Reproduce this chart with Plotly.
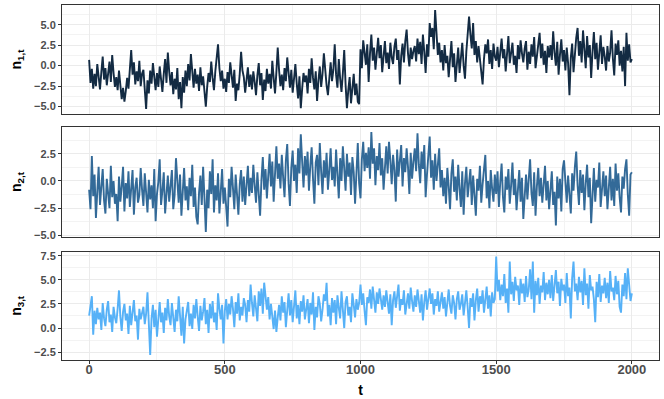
import plotly.graph_objects as go
from plotly.subplots import make_subplots

# time index, one value every 5 steps
t = list(range(0, 2001, 5))

# n_{1,t}: level shift at t = 1000
n1 = (
    [0.7, -2.1, -0.4, -2.8, -1.0, -2.5, 0.2, -1.6, -2.9, -0.8, 1.1, -1.7, -0.3, -2.4, -1.2, 0.5, -2.0, 1.3, -0.9, -2.6]
    + [-1.4, -3.0, -0.6, -2.2, -4.1, -2.7, -4.4, -3.1, -1.5, -2.8, -0.2, 1.9, -1.1, 0.4, -2.3, -0.7, -1.9, 0.6, -2.5, -1.0]
    + [-0.5, -2.9, -5.3, -1.8, -3.4, -0.6, -2.2, 0.3, -1.3, -3.0, -0.9, -2.6, -0.1, -1.7, -3.2, -1.0, 0.8, -2.1, 1.6, -0.7]
    + [-2.4, -0.8, -3.5, -1.6, -2.9, -0.3, -4.1, -2.0, -5.2, -1.4, -3.3, -0.6, -2.5, 0.2, -1.8, 1.4, -1.0, -2.7, -0.4, -2.2]
    + [-1.1, -3.1, -0.2, -2.4, -1.3, -3.8, -5.0, -2.6, -0.9, -2.0, 0.5, -1.5, -3.0, -0.7, 1.2, 2.6, -0.3, -1.9, -0.6, -2.8]
    + [-1.6, -3.2, -0.8, -2.1, 0.4, -1.2, -2.7, -0.5, -4.3, -2.2, -3.0, -1.0, 1.7, -0.6, -1.4, -3.3, -1.8, -0.2, -2.6, -1.1]
    + [-2.9, -0.7, -2.0, -3.6, -1.2, 0.3, -2.4, -0.9, -4.2, -1.7, -3.1, -0.4, -2.2, -1.0, -2.8, 0.6, -1.5, -3.4, -0.8, 2.2]
    + [-0.6, -2.5, -1.1, -3.0, -0.3, -1.9, 1.0, -1.4, -2.7, -0.5, -3.3, -1.6, 0.2, -2.2, -4.0, -1.3, -5.2, -2.8, -0.9, -2.0]
    + [-1.2, -3.4, -0.4, -2.1, 0.9, -1.5, -2.9, -0.7, -4.3, -1.8, -0.1, -2.6, -1.0, 1.5, -0.8, -2.4, -3.6, -1.3, 0.4, -1.9]
    + [-0.5, 2.6, -1.1, -2.7, 0.8, -1.6, -3.2, -0.9, 1.9, -2.3, -5.2, -3.0, -1.4, -4.6, -2.5, -1.0, -3.6, -2.2, -4.4, -4.7]
    + [2.0, -0.3, 3.1, 1.2, 0.1, 2.6, -2.0, 1.5, 3.8, 0.6, 2.2, -0.5, 1.8, 3.4, 0.9, 2.5, -0.8, 1.4, 3.0, 0.3]
    + [1.6, -0.4, 2.8, 1.0, 0.2, 2.3, 3.3, 0.7, 1.9, -2.3, 1.2, 2.7, 0.4, 3.0, 4.4, 1.5, -0.1, 2.2, 0.8, 1.8]
    + [2.4, 0.5, 3.3, 1.4, 2.9, 0.2, 3.8, 1.7, -0.9, 2.6, 1.1, 5.2, 3.5, 4.6, 2.0, 6.8, 3.9, 1.3, 2.8, 0.4]
    + [1.9, -0.6, 2.5, 0.3, 1.2, -1.4, 0.8, 3.0, -0.2, 1.5, -2.0, 0.6, 2.2, -0.9, 1.1, 2.8, 0.0, -1.6, 1.7, 3.5]
    + [6.0, 3.8, 2.1, 5.2, 1.3, 3.0, 0.4, 2.4, 1.0, -0.7, -2.3, 0.8, 2.6, 1.5, 3.2, 0.2, 1.9, -0.4, 2.7, 1.1]
    + [0.6, 2.3, -0.2, 1.6, 3.3, 0.9, 2.0, -0.7, 1.4, 3.6, 0.3, 1.9, 2.8, 0.1, 1.2, -0.9, 2.5, 0.8, 3.1, 1.5]
    + [0.4, 2.1, 3.0, -0.5, 1.7, 0.2, 2.6, 1.1, 3.5, -0.3, 1.4, 2.2, 4.0, 0.9, 2.7, 0.1, 1.8, -0.9, 2.4, 1.0]
    + [2.5, 0.7, 4.2, 1.6, 0.0, 2.9, -1.1, 1.3, 3.2, 0.5, 1.9, -0.6, 2.2, 0.3, -3.6, 1.0, 2.7, -0.8, 1.5, 3.4]
    + [4.6, 1.2, 3.0, 0.4, 4.3, 2.1, -0.3, 3.6, 1.0, 2.5, -1.5, 1.7, 4.1, 0.8, 2.8, -0.5, 1.9, 3.7, 0.2, 2.3]
    + [1.1, -0.6, 2.4, 0.5, 1.6, 4.3, 0.9, -1.2, 2.7, 1.3, 3.1, 0.0, 1.8, -0.7, 2.3, -2.5, 4.0, 0.6, 2.6, 0.4]
    + [0.8]
)

# n_{2,t}: slow bump between ~600 and ~1300
n2 = (
    [-0.8, -2.6, 2.3, -1.4, 0.6, -3.4, -1.0, 1.3, -2.2, -0.3, 1.1, -1.8, -3.0, 0.2, -0.9, -2.5, 1.4, -1.5, 0.0, -2.1]
    + [-1.2, -3.7, 0.4, -1.9, -0.5, 1.3, -2.8, -0.2, -1.6, 0.9, -2.4, -1.0, 1.0, -3.1, -0.6, 0.3, -2.0, -1.3, 1.2, -0.8]
    + [-2.3, 0.7, -1.1, -2.9, 0.1, -1.7, -0.4, -2.5, 1.1, -3.7, -1.2, -0.1, 2.0, -2.2, -0.9, 0.8, -3.0, -1.5, 0.5, -1.9]
    + [-0.7, 1.0, -2.6, -1.3, 2.1, -0.2, -2.0, 0.6, -3.2, -1.0, 1.2, -1.8, -0.5, -2.7, 0.3, -1.4, 1.5, -2.4, -0.6, -3.3]
    + [-4.0, -1.1, 0.5, -2.2, 1.3, -1.6, -4.7, -0.8, -2.5, 0.9, -1.2, 2.0, -2.9, -0.4, -1.8, 0.7, -3.0, -1.0, 1.1, -2.1]
    + [-0.6, -2.4, -4.2, 0.2, -1.5, 1.3, -0.9, -2.6, 0.6, -1.2, -3.1, -0.3, 1.0, -1.9, 0.4, -2.2, -0.7, 1.4, -1.4, 0.3]
    + [-1.1, 1.5, -0.4, -2.0, 0.8, -1.3, -3.2, 0.1, 2.2, -0.8, 1.1, -1.6, 0.6, 2.5, -0.5, 1.8, -1.9, 0.9, 3.2, 0.2]
    + [1.6, -0.7, 2.4, 0.3, -1.5, 1.9, 3.4, -0.2, -2.3, 1.2, 2.8, 0.0, 1.5, -1.1, 3.0, 0.7, 4.3, 1.8, -0.6, 2.3]
    + [0.5, 2.7, -0.9, 1.4, 3.1, 0.2, -2.1, 1.7, 2.4, -0.4, 3.5, 0.9, -1.2, 1.9, 0.3, 2.6, -0.8, 1.0, 3.0, 0.1]
    + [1.3, -0.5, 2.9, 0.6, -1.6, 2.1, 0.0, 3.2, 1.1, -0.9, 2.5, 0.4, 1.7, -1.3, 2.2, 0.8, -2.1, 1.4, 3.5, -0.2]
    + [-1.6, 2.0, 3.6, 0.9, 2.6, 1.2, 3.1, 0.2, 4.5, 1.6, 3.0, -0.4, 2.3, 1.0, 3.5, 0.5, 2.1, -0.8, 1.7, 3.2]
    + [0.7, 3.6, 1.9, -0.3, 2.4, 1.0, -1.9, 2.9, 0.4, 1.6, 3.3, -0.5, 2.1, 0.8, 3.0, 1.3, -1.2, 2.6, 0.2, 1.8]
    + [3.0, 0.9, 4.4, 1.5, -0.2, 2.7, 1.1, 3.3, -1.5, 0.6, 2.2, 4.1, 0.3, 1.9, -0.8, 2.5, 0.0, 1.4, 3.0, -0.6]
    + [1.0, -1.4, 0.3, -2.1, 1.2, -0.5, -2.6, 0.7, 2.0, -1.0, 0.4, -1.8, 1.5, -0.7, -2.4, 0.9, -3.1, -0.2, 1.3, -1.5]
    + [-0.4, 1.1, -2.2, 0.5, -1.3, -3.2, 0.2, -0.9, 1.4, -2.0, -0.3, 0.8, 2.4, -1.6, 0.0, -2.5, 1.0, -0.7, -1.9, 0.6]
    + [-1.2, 0.9, -2.4, -0.1, 1.6, -1.5, -2.9, 0.4, -0.8, 1.1, -2.1, -0.4, 1.7, -1.3, 0.2, -2.7, -0.6, 1.0, -1.9, 0.3]
    + [-3.5, -0.9, 0.6, -1.7, 0.1, 2.0, -1.1, -2.3, 0.8, -3.2, -0.5, 1.2, -1.4, 0.3, -2.0, -0.2, 1.4, -1.8, 0.0, -2.6]
    + [-0.7, 0.9, -2.2, -1.0, -4.1, 0.4, -1.6, 0.2, -2.8, 1.1, 1.9, -0.6, -2.0, 0.5, -1.3, -3.0, 0.7, -0.9, 1.3, 2.7]
    + [-0.4, -2.2, 1.0, -1.1, 0.6, -2.7, -0.2, 1.5, -1.5, 0.3, -3.9, -0.8, 1.2, -1.9, 0.1, -0.6, 1.7, -2.4, -0.3, 0.9]
    + [-1.4, 0.5, -2.6, -0.1, 1.3, -1.8, 0.2, -2.3, 1.6, -0.9, 0.7, -1.5, -2.9, 0.4, -0.7, 1.1, 2.0, -1.2, -3.2, 0.6]
    + [0.8]
)

# n_{3,t}: upward drift
n3 = (
    [1.3, 2.4, 3.3, -0.7, 1.8, 0.4, 2.1, 0.9, 1.6, -0.2, 2.6, 1.0, 0.2, 1.9, 2.8, 0.6, 1.4, -0.4, 2.2, 1.1]
    + [0.5, 2.0, 3.9, 1.2, -0.3, 1.7, 2.5, 0.8, 1.5, -0.6, 2.3, 0.3, 1.8, 2.9, 0.7, 1.3, -1.2, 2.0, 0.9, 1.6]
    + [2.2, 0.4, 1.5, 3.7, -0.2, -2.8, 1.0, 2.4, 0.1, 1.9, -0.9, 1.3, 2.7, 0.6, 1.6, -0.5, 2.1, 0.8, 3.0, 1.2]
    + [0.3, 2.6, 1.4, -0.4, 1.9, 0.7, 3.3, 1.1, -0.8, 2.2, -1.6, 0.9, 1.8, 2.7, 0.2, 1.5, -0.1, 2.4, 1.0, 3.0]
    + [1.2, -0.3, 2.3, 0.8, 1.7, 3.1, 0.4, 1.9, -0.5, 2.5, 1.0, 2.8, 0.6, 1.6, -0.2, 3.6, 2.0, 0.9, 2.4, -1.6]
    + [1.8, 3.0, 0.9, 2.5, 1.4, 3.3, 2.0, 0.1, 2.7, 1.5, 3.6, 0.8, 2.2, 1.3, 3.1, 2.4, 0.6, 2.9, 1.7, 4.5]
    + [2.6, 1.2, 3.4, 2.0, 0.7, 3.8, 2.3, 4.1, 1.5, 4.7, 2.8, 1.9, 3.2, 0.9, 2.5, 1.4, -0.1, 1.8, -0.4, 1.1]
    + [2.4, 0.8, 3.3, 1.6, 2.7, 0.1, 2.1, 3.6, 1.3, 2.9, 0.6, 1.9, 3.9, 1.0, 2.4, 0.4, 2.8, 1.7, 3.4, 0.9]
    + [2.0, 3.0, 0.5, 2.6, 1.4, 3.7, -0.2, 2.2, 1.1, 3.3, 2.5, 0.7, 1.9, 3.5, 2.8, 4.7, 1.2, 2.4, 0.3, 3.1]
    + [1.6, 2.9, 0.4, 3.4, 2.1, 1.0, 3.8, 1.8, 0.0, 2.7, 3.3, 1.3, 2.2, 0.6, 3.6, 2.4, 1.1, 3.0, 1.9, 2.6]
    + [4.5, 2.4, 3.6, 1.8, 0.3, 3.2, 2.6, 4.0, 2.0, 4.3, 3.0, 1.6, 3.7, 2.5, 4.1, 2.9, 1.9, 3.4, 2.2, 3.9]
    + [2.7, 1.5, 3.5, 0.3, 2.9, 3.8, 2.1, 3.3, 4.5, 1.8, 3.0, 2.4, 3.9, 1.4, 2.6, 3.6, 2.0, 4.2, 2.8, 1.7]
    + [3.4, 2.2, 4.0, 2.9, 1.6, 3.5, 0.8, 2.7, 3.9, 1.9, 3.1, 4.1, 2.5, 3.6, 1.4, 3.0, 2.3, 3.8, 1.7, 2.9]
    + [3.7, 2.0, 3.2, 1.2, 2.8, 4.0, 2.3, 1.5, 3.4, 2.6, 0.9, 3.0, 3.8, 1.9, 2.5, 3.5, 1.3, 2.7, 3.9, 2.1]
    + [0.0, 3.1, 2.2, 3.6, 0.8, 2.9, 4.1, 1.7, 3.3, 2.5, 3.9, 1.6, 2.8, 4.3, 2.0, 3.4, 1.2, 3.7, 2.6, 3.0]
    + [7.4, 3.8, 5.0, 2.9, 4.5, 3.3, 5.6, 2.6, 4.1, 1.6, 6.9, 3.5, 4.8, 2.8, 5.3, 3.9, 4.4, 2.4, 5.1, 3.6]
    + [4.6, 2.7, 5.4, 3.2, 4.0, 6.1, 3.0, 6.9, 1.6, 4.9, 3.4, 5.2, 2.5, 4.4, 3.7, 5.8, 2.9, 4.7, 3.5, 5.0]
    + [3.1, 5.5, 2.8, 4.3, 6.0, 3.6, 4.8, 2.3, 5.1, 3.9, 4.5, 2.6, 5.7, 3.3, 4.2, 1.0, 5.2, 6.9, 3.8, 4.6]
    + [2.9, 5.3, 3.7, 4.9, 2.4, 6.2, 3.4, 4.6, 2.0, 5.5, 3.9, 4.3, 3.0, 0.6, 4.8, 3.2, 5.6, 2.7, 4.4, 3.6]
    + [5.2, 3.1, 4.7, 2.6, 5.9, 3.8, 4.2, 2.9, 5.4, 3.5, 4.9, 2.2, 1.6, 4.5, 3.3, 5.7, 3.0, 6.2, 4.0, 2.8]
    + [3.6]
)

series = [n1, n2, n3]
labels = ["<b>n<sub>1,t</sub></b>", "<b>n<sub>2,t</sub></b>", "<b>n<sub>3,t</sub></b>"]
colors = ["#132B43", "#336A98", "#56B1F7"]
yticks = [[-5, -2.5, 0, 2.5, 5], [-5, -2.5, 0, 2.5], [-2.5, 0, 2.5, 5, 7.5]]
# panel heights in paper coords (row 1 on top)
domains = [[0.693, 1.0], [0.3465, 0.656], [0.0, 0.305]]

FONT = "Liberation Sans, Arial, sans-serif"
GRID = "#EBEBEB"
BORDER = "#333333"

fig = make_subplots(rows=3, cols=1, shared_xaxes=True)

for i, y in enumerate(series):
    row = i + 1
    fig.add_trace(
        go.Scatter(x=t, y=y, mode="lines", line=dict(color=colors[i], width=1.9), showlegend=False),
        row=row, col=1,
    )
    # ggplot-like 5% expansion
    lo, hi = min(y), max(y)
    pad = 0.05 * (hi - lo)
    fig.update_yaxes(
        row=row, col=1,
        domain=domains[i],
        range=[lo - pad, hi + pad],
        automargin=False,
        tickvals=yticks[i],
        tickformat=".1f",
        tickfont=dict(family=FONT, size=11, color="#4D4D4D", weight="bold"),
        ticks="outside", ticklen=3, tickcolor=BORDER,
        showgrid=True, gridcolor=GRID, gridwidth=1,
        minor=dict(dtick=1.25, tick0=0, showgrid=True, gridcolor="#F3F3F3", gridwidth=0.6),
        zeroline=False,
        showline=True, mirror=True, linecolor=BORDER, linewidth=1,
        title=dict(text=labels[i], font=dict(family=FONT, size=14, color="black"), standoff=9),
    )
    fig.update_xaxes(
        row=row, col=1,
        range=[-100, 2100],
        automargin=False,
        tickvals=[0, 500, 1000, 1500, 2000],
        showgrid=True, gridcolor=GRID, gridwidth=1,
        minor=dict(dtick=250, tick0=0, showgrid=True, gridcolor="#F3F3F3", gridwidth=0.6),
        zeroline=False,
        showline=True, mirror=True, linecolor=BORDER, linewidth=1,
        showticklabels=(row == 3),
        ticks="outside" if row == 3 else "",
        ticklen=3, tickcolor=BORDER,
        tickfont=dict(family=FONT, size=13, color="#4D4D4D", weight="bold"),
    )

fig.update_xaxes(
    row=3, col=1,
    ticklabelstandoff=-6,
    title=dict(text="<b>t</b>", font=dict(family=FONT, size=14, color="black"), standoff=9),
)

fig.update_layout(
    width=664, height=399,
    margin=dict(l=62, r=5, t=5, b=39),
    plot_bgcolor="white", paper_bgcolor="white",
    font=dict(family=FONT),
)

# drop the browser's default 8px body margin so the figure sits at the corner
fig.write_html(
    "out.html",
    config={"displayModeBar": False},
    post_script="document.body.style.margin='0';",
)
